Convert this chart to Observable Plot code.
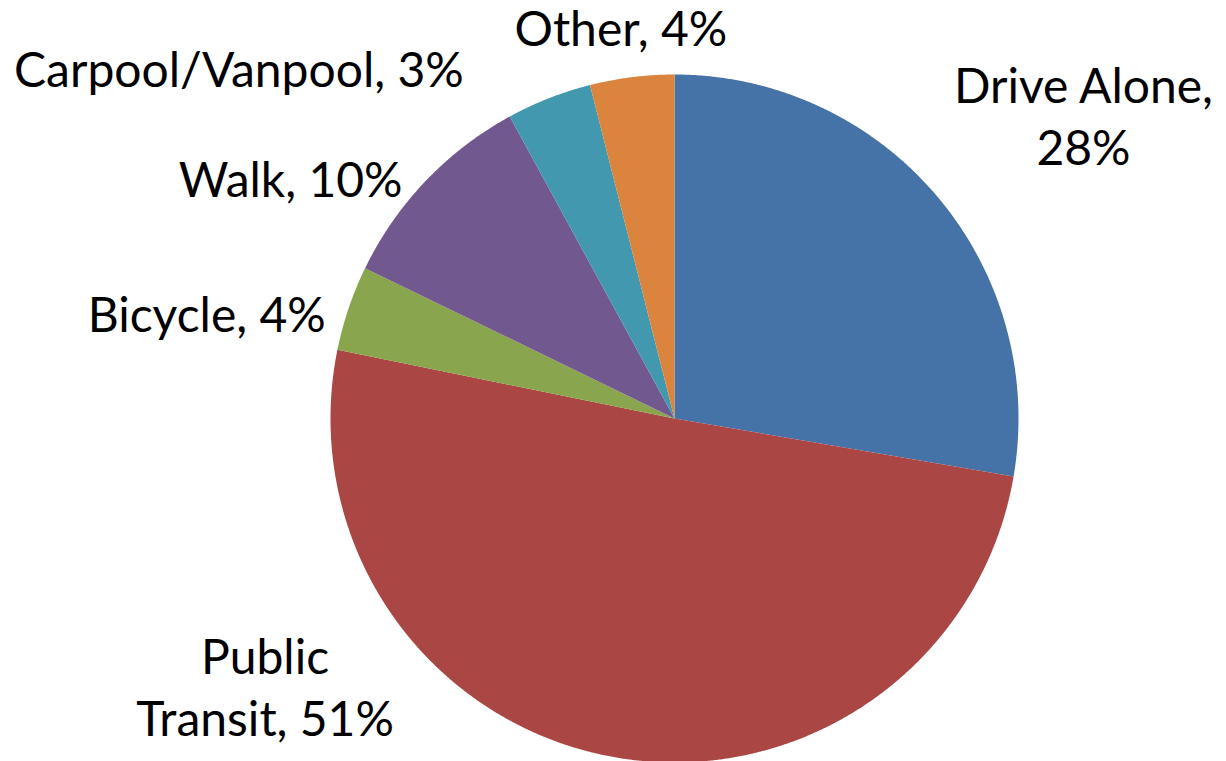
<!DOCTYPE html>
<html><head><meta charset="utf-8">
<script src="https://cdn.jsdelivr.net/npm/d3@7"></script>
<script src="https://cdn.jsdelivr.net/npm/@observablehq/plot@0.6"></script>
<style>body{margin:0;background:#fff} svg{display:block}</style>
</head><body><div id="chart"></div>
<script>
// Data
const categories = ["Drive Alone", "Public Transit", "Bicycle", "Walk", "Carpool/Vanpool", "Other"];
const shares = [27.7, 50.5, 4.0, 9.85, 4.0, 3.95];
const labelTexts = ["Drive Alone,\n28%", "Public\nTransit, 51%", "Bicycle, 4%", "Walk, 10%", "Carpool/Vanpool, 3%", "Other, 4%"];
const colors = ["#4572A7", "#AA4643", "#89A54E", "#71588F", "#4198AF", "#DB843D"];
// label offsets (px) from the slice's outer mid-arc point
const labelOffsets = [[146, -32], [-346, -21], [-142, 24], [-135, 16], [-310, -11], [-11, -31]];

const fontSize = 48;
const arcs = d3.pie().value(d => d).sort(null)(shares);

const slicePoints = [];
arcs.forEach((a, i) => {
  const cat = categories[i];
  slicePoints.push({cat, x: 0, y: 0});
  const n = Math.max(2, Math.ceil((a.endAngle - a.startAngle) / 0.004));
  for (let k = 0; k <= n; k++) {
    const t = a.startAngle + (a.endAngle - a.startAngle) * k / n;
    slicePoints.push({cat, x: Math.sin(t), y: Math.cos(t)});
  }
});

const labelMarks = arcs.map((a, i) => {
  const m = (a.startAngle + a.endAngle) / 2;
  return Plot.text([{x: Math.sin(m), y: Math.cos(m), t: labelTexts[i]}], {
    x: "x", y: "y", text: "t",
    dx: labelOffsets[i][0], dy: labelOffsets[i][1],
    textAnchor: "middle", lineAnchor: "bottom",
    fontSize, lineHeight: 62 / fontSize, fill: "black", fontFamily: "Lato"
  });
});

const chart = Plot.plot({
  width: 1226, height: 761,
  margin: 0,
  style: {fontFamily: "Lato", background: "white", overflow: "visible"},
  x: {domain: [-1, 1], range: [330, 1018], axis: null},
  y: {domain: [-1, 1], range: [762, 74], axis: null},
  color: {domain: categories, range: colors},
  marks: [
    Plot.line(slicePoints, {x: "x", y: "y", z: "cat", fill: "cat", stroke: "none", curve: "linear-closed"}),
    ...labelMarks
  ]
});
document.getElementById("chart").appendChild(chart);
</script>
</body></html>
